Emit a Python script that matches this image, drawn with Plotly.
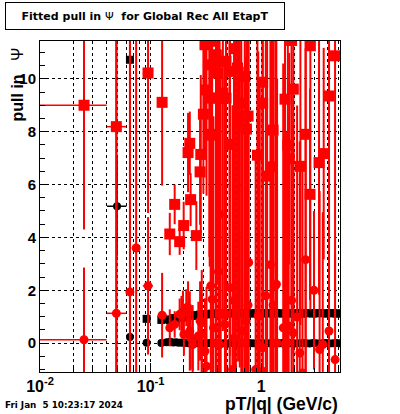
import plotly.graph_objects as go

# ---------------- data ----------------
# black squares (sigma of pull)
bsq_x = [0.065, 0.092, 0.125, 0.14, 0.15, 0.16, 0.17, 0.18, 0.19, 0.2, 0.21, 0.22, 0.235, 0.25,
         0.265, 0.28, 0.3, 0.32, 0.34, 0.36, 0.38, 0.4, 0.43, 0.46, 0.49, 0.52, 0.56, 0.6, 0.64,
         0.68, 0.73, 0.78, 0.84, 0.9, 0.96, 1.03, 1.1, 1.18, 1.27, 1.36, 1.46, 1.57, 1.68, 1.8,
         1.93, 2.07, 2.22, 2.38, 2.55, 2.73, 2.93, 3.14, 3.37, 3.61, 3.87, 4.15, 4.45, 4.77, 5.1]
bsq_y = [10.72, 0.92, 0.88, 0.9, 0.86, 0.95, 0.92, 0.98, 0.96, 1.0, 1.02, 1.04, 1.03, 1.06,
         1.05, 1.08, 1.07, 1.1, 1.09, 1.12, 1.1, 1.13, 1.11, 1.12, 1.1, 1.14, 1.12, 1.13, 1.11,
         1.14, 1.12, 1.13, 1.12, 1.14, 1.13, 1.12, 1.14, 1.13, 1.12, 1.14, 1.13, 1.12, 1.14, 1.13,
         1.12, 1.13, 1.14, 1.12, 1.13, 1.14, 1.12, 1.13, 1.14, 1.13, 1.12, 1.14, 1.13, 1.12, 1.13]
bsq_err = [13.0, 0.12, 0.1, 0.1, 0.1, 0.09, 0.08, 0.08, 0.07, 0.07, 0.06, 0.06, 0.06, 0.05,
           0.05, 0.05, 0.05, 0.05, 0.05, 0.05, 0.05, 0.05, 0.05, 0.05, 0.05, 0.05, 0.05, 0.05, 0.05,
           0.05, 0.05, 0.05, 0.05, 0.05, 0.05, 0.05, 0.05, 0.05, 0.05, 0.05, 0.05, 0.05, 0.05, 0.05,
           0.05, 0.05, 0.05, 0.05, 0.05, 0.05, 0.05, 0.05, 0.05, 0.05, 0.05, 0.05, 0.05, 0.05, 0.05]

# black circles (mean of pull)
bci_x = [0.0497, 0.065, 0.092, 0.125, 0.14, 0.15, 0.16, 0.17, 0.18, 0.19, 0.2, 0.21, 0.22, 0.235,
         0.25, 0.265, 0.28, 0.3, 0.32, 0.34, 0.36, 0.38, 0.4, 0.43, 0.46, 0.49, 0.52, 0.56, 0.6,
         0.64, 0.68, 0.73, 0.78, 0.84, 0.9, 0.96, 1.03, 1.1, 1.18, 1.27, 1.36, 1.46, 1.57, 1.68,
         1.8, 1.93, 2.07, 2.22, 2.38, 2.55, 2.73, 2.93, 3.14, 3.37, 3.61, 3.87, 4.15, 4.45, 4.77, 5.1]
bci_y = [5.18, 0.23, 0.02, 0.01, 0.04, 0.05, 0.03, 0.04, 0.02, 0.03, 0.01, 0.02, 0.0, -0.02,
         -0.01, 0.01, -0.02, 0.0, -0.01, 0.01, -0.02, 0.0, 0.01, -0.01, 0.0, -0.02, 0.01, 0.0, -0.01,
         0.01, 0.0, -0.02, 0.01, 0.0, -0.01, 0.01, 0.0, -0.01, 0.0, 0.01, -0.01, 0.0, 0.01, -0.01,
         0.0, 0.01, -0.01, 0.0, 0.01, 0.0, -0.01, 0.01, 0.0, -0.01, 0.0, 0.01, -0.01, 0.0, 0.01, 0.0]
bci_err = [1.9, 0.3, 0.12, 0.1, 0.1, 0.09, 0.08, 0.08, 0.07, 0.07, 0.06, 0.06, 0.06, 0.05,
           0.05, 0.05, 0.05, 0.05, 0.05, 0.05, 0.05, 0.05, 0.05, 0.05, 0.05, 0.05, 0.05, 0.05, 0.05,
           0.05, 0.05, 0.05, 0.05, 0.05, 0.05, 0.05, 0.05, 0.05, 0.05, 0.05, 0.05, 0.05, 0.05, 0.05,
           0.05, 0.05, 0.05, 0.05, 0.05, 0.05, 0.05, 0.05, 0.05, 0.05, 0.05, 0.05, 0.05, 0.05, 0.05, 0.05]
bci_xlo = [0.0093] + [0] * 59
bci_xhi = [0.0107] + [0] * 59

# red squares
rsq_x = [0.025, 0.049, 0.0948, 0.127, 0.149, 0.165, 0.183, 0.199, 0.218, 0.226, 0.23, 0.259,
         0.284, 0.28, 0.3, 0.31, 0.32, 0.34, 0.342, 0.35, 0.35, 0.36, 0.39, 0.4, 0.41, 0.45,
         0.48, 0.48, 0.52, 0.52, 0.57, 0.61, 0.617, 0.64, 0.66, 0.71, 0.735, 0.76, 0.924, 1.03,
         1.03, 1.13, 1.24, 1.28, 1.64, 1.74, 1.79, 1.88, 1.95, 2.26, 2.52, 2.76, 2.78, 3.33,
         3.67, 4.1, 4.65]
rsq_y = [9.0, 8.19, 10.22, 9.11, 4.13, 5.25, 3.84, 4.45, 7.21, 7.56, 5.43, 4.07,
         7.14, 6.48, 8.66, 11.29, 9.58, 9.27, 7.9, 10.53, 7.87, 11.42, 10.91, 10.22, 9.27, 9.46,
         10.66, 9.27, 10.28, 7.52, 11.14, 10.41, 8.31, 9.08, 8.59, 10.09, 8.1, 8.59, 7.11, 9.87,
         9.08, 6.32, 6.67, 8.06, 9.23, 7.49, 6.98, 11.45, 9.61, 6.69, 7.9, 5.63, 11.25, 6.83,
         7.17, 9.35, 10.87]
rsq_err = [4.7, 10.0, 5.3, 3.15, 0.8, 0.75, 0.5, 0.9, 1.5, 1.2, 1.0, 1.3,
           3.0, 2.0, 3.0, 4.0, 4.0, 6.0, 5.0, 5.0, 6.0, 6.0, 8.0, 8.0, 7.0, 9.0,
           9.0, 8.0, 10.0, 8.0, 10.0, 10.0, 9.0, 10.0, 10.0, 10.0, 9.0, 10.0, 8.0, 10.0,
           9.0, 8.0, 8.0, 10.0, 10.0, 8.0, 4.0, 10.0, 10.0, 6.0, 10.0, 4.0, 10.0, 5.0,
           4.0, 6.0, 9.0]
rsq_xlo = [0.015, 0.0087, 0.0098, 0.011] + [0] * 53
rsq_xhi = [0.015, 0.0113, 0.0102, 0.013] + [0] * 53

# red circles
rci_x = [0.025, 0.049, 0.065, 0.074, 0.0948, 0.127, 0.149, 0.165, 0.183, 0.19, 0.196, 0.2,
         0.21, 0.218, 0.226, 0.23, 0.24, 0.24, 0.27, 0.28, 0.29, 0.29, 0.31, 0.32, 0.35, 0.36,
         0.37, 0.39, 0.41, 0.42, 0.42, 0.43, 0.47, 0.48, 0.52, 0.55, 0.57, 0.57, 0.59, 0.68,
         0.71, 0.73, 0.76, 0.77, 0.89, 0.94, 0.97, 1.03, 1.03, 1.1, 1.21, 1.28, 1.34, 1.37,
         1.39, 1.58, 1.64, 1.71, 1.77, 1.88, 1.95, 2.11, 2.23, 2.36, 2.52, 3.0, 3.37, 3.6,
         4.1, 4.65]
rci_y = [0.13, 1.13, 1.94, 3.6, 2.17, 1.06, 0.58, 0.71, 1.09, 1.09, 1.19, 0.33,
         1.34, 1.34, 0.46, 0.2, -0.05, 0.14, 0.27, 0.84, 0.77, 0.33, -0.3, -0.87, 2.17, 1.66,
         0.58, 0.01, 2.7, 4.87, -0.05, 1.09, 0.71, 1.09, 2.1, -1.0, 1.6, 0.2, 1.72, 0.46,
         0.01, 0.84, 1.44, 3.05, -1.0, 1.03, -0.11, -1.06, -0.18, 1.79, 2.97, 1.44, 2.17, 2.23,
         0.01, 0.58, -0.05, 0.01, 0.65, 1.62, 0.39, 0.99, -0.37, -1.13, 3.16, 2.0, -0.24, -0.05,
         0.46, -0.62]
rci_err = [2.73, 12.0, 12.0, 12.0, 2.6, 1.6, 0.7, 0.5, 0.6, 0.7, 0.8, 0.8,
           0.7, 1.0, 1.5, 1.2, 1.0, 1.3, 1.3, 1.5, 2.0, 1.5, 2.0, 3.0, 5.0, 5.0,
           8.0, 8.0, 8.0, 8.0, 8.0, 10.0, 10.0, 10.0, 10.0, 10.0, 10.0, 10.0, 10.0, 10.0,
           10.0, 10.0, 10.0, 10.0, 8.0, 10.0, 10.0, 10.0, 10.0, 10.0, 10.0, 10.0, 10.0, 10.0,
           10.0, 10.0, 10.0, 8.0, 8.0, 8.0, 8.0, 8.0, 8.0, 8.0, 8.0, 3.0, 6.0, 5.0,
           3.0, 4.0]
rci_xlo = [0.015, 0.0087, 0, 0, 0.0098, 0.011] + [0] * 64
rci_xhi = [0.015, 0.0113, 0, 0, 0.0102, 0.013] + [0] * 64

x_major = [0.01, 0.1, 1]
x_major_text = ["10<sup>-2</sup>", "10<sup>-1</sup>", "1"]
x_minor = [0.02, 0.03, 0.04, 0.05, 0.06, 0.07, 0.08, 0.09,
           0.2, 0.3, 0.4, 0.5, 0.6, 0.7, 0.8, 0.9, 2, 3, 4, 5]
y_major = [0, 2, 4, 6, 8, 10]

# ---------------- layout helpers ----------------
W, H = 400, 414
L, R, T, B = 40, 340, 41, 372


def px(xp):
    return (xp - L) / (R - L)


def py(yp):
    return (B - yp) / (B - T)


FONT = "Liberation Sans"
WIDE = "DejaVu Sans"
RED = "#ff0000"

fig = go.Figure()

fig.add_trace(go.Scatter(
    x=bsq_x, y=bsq_y, mode="markers",
    marker=dict(symbol="square", size=8, color="black"),
    error_y=dict(type="data", array=bsq_err, color="black", thickness=1.5, width=0),
))
fig.add_trace(go.Scatter(
    x=bci_x, y=bci_y, mode="markers",
    marker=dict(symbol="circle", size=8, color="black"),
    error_y=dict(type="data", array=bci_err, color="black", thickness=1.5, width=0),
    error_x=dict(type="data", symmetric=False, array=bci_xhi, arrayminus=bci_xlo,
                 color="black", thickness=1.5, width=0),
))
fig.add_trace(go.Scatter(
    x=rsq_x, y=rsq_y, mode="markers",
    marker=dict(symbol="square", size=11, color=RED),
    error_y=dict(type="data", array=rsq_err, color=RED, thickness=2, width=0),
    error_x=dict(type="data", symmetric=False, array=rsq_xhi, arrayminus=rsq_xlo,
                 color=RED, thickness=1.5, width=0),
))
fig.add_trace(go.Scatter(
    x=rci_x, y=rci_y, mode="markers",
    marker=dict(symbol="circle", size=9, color=RED),
    error_y=dict(type="data", array=rci_err, color=RED, thickness=2, width=0),
    error_x=dict(type="data", symmetric=False, array=rci_xhi, arrayminus=rci_xlo,
                 color=RED, thickness=1.5, width=0),
))

fig.update_layout(
    width=W, height=H,
    margin=dict(l=L, r=W - R, t=T, b=H - B, pad=0),
    paper_bgcolor="white", plot_bgcolor="white",
    showlegend=False,
    font=dict(family=FONT, color="black"),
)

fig.update_xaxes(
    type="log", range=[-2, 0.712],
    tickmode="array", tickvals=x_major, ticktext=x_major_text,
    ticks="inside", ticklen=9, tickcolor="black", tickwidth=1,
    tickfont=dict(family=FONT, size=16, weight="bold"),
    showgrid=True, gridcolor="black", griddash="dot", gridwidth=1,
    minor=dict(tickmode="array", tickvals=x_minor, ticks="inside", ticklen=4,
               tickcolor="black", showgrid=True, gridcolor="black", griddash="dot", gridwidth=1),
    showline=True, linecolor="black", linewidth=1, mirror=True,
    zeroline=False,
)
fig.update_yaxes(
    range=[-1.09, 11.43],
    tickmode="array", tickvals=y_major,
    ticks="inside", ticklen=9, tickcolor="black", tickwidth=1,
    tickfont=dict(family=FONT, size=15, weight="bold"),
    showgrid=True, gridcolor="black", griddash="dot", gridwidth=1,
    minor=dict(dtick=0.5, ticks="inside", ticklen=4.5, tickcolor="black", showgrid=False),
    showline=True, linecolor="black", linewidth=1, mirror=True,
    zeroline=False,
)

# title box
fig.add_annotation(
    xref="paper", yref="paper", x=px(144.5), y=py(16.5), xanchor="center", yanchor="middle",
    text="<b>Fitted pull in </b>Ψ<b>\u00a0 for Global Rec All EtapT</b>",
    showarrow=False, font=dict(family=WIDE, size=11, color="black"),
    bordercolor="black", borderwidth=1, borderpad=0, width=278, height=26, bgcolor="white",
)
# y title
fig.add_annotation(
    xref="paper", yref="paper", x=px(16.5), y=py(46), xanchor="center", yanchor="top",
    text="<b>pull in</b>\u00a0\u00a0 Ψ", textangle=-90, showarrow=False,
    font=dict(family=FONT, size=16, color="black"),
)
# x title
fig.add_annotation(
    xref="paper", yref="paper", x=px(340), y=py(404), xanchor="right", yanchor="middle",
    text="<b>pT/|q| (GeV/c)</b>", showarrow=False,
    font=dict(family=FONT, size=17.5, color="black"),
)
# date stamp
fig.add_annotation(
    xref="paper", yref="paper", x=px(3), y=py(405), xanchor="left", yanchor="middle",
    text="<b>Fri Jan \u00a05 10:23:17 2024</b>", showarrow=False,
    font=dict(family=WIDE, size=8.8, color="black"),
)

fig.write_html(
    "out.html",
    config={"displayModeBar": False},
    post_script="document.body.style.margin='0';document.body.style.padding='0';",
)
